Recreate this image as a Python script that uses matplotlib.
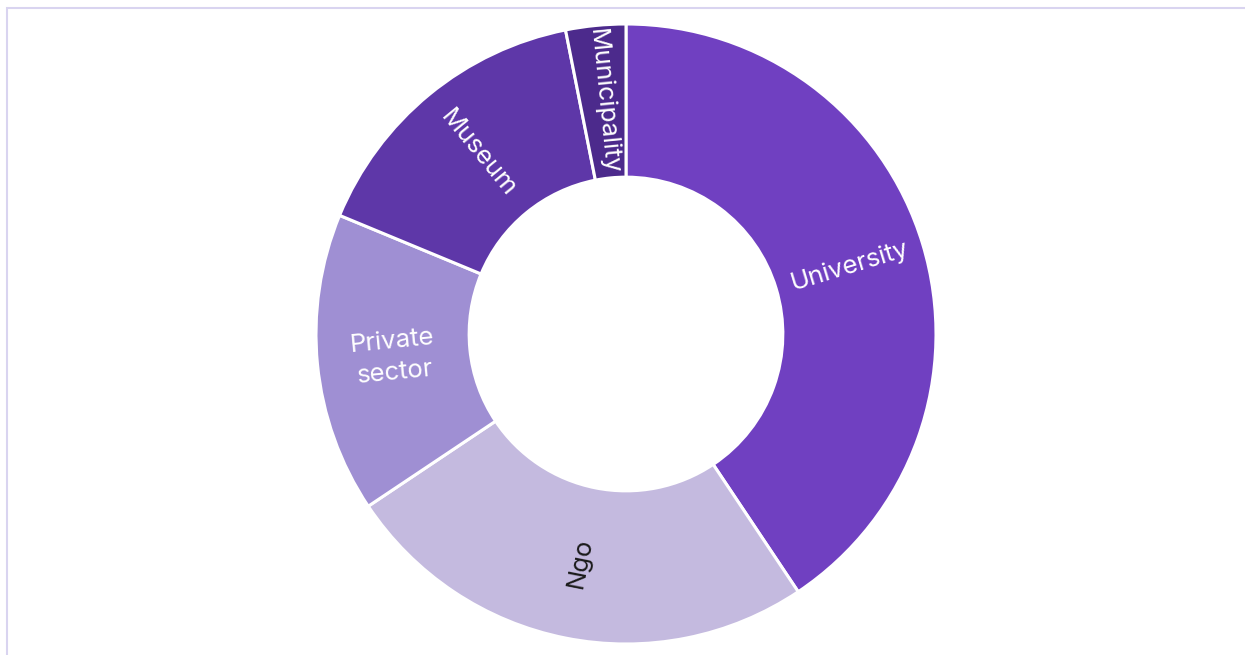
import numpy as np
import matplotlib.pyplot as plt
from matplotlib.patches import Rectangle

labels = ['University', 'Ngo', 'Private\nsector', 'Museum', 'Municipality']
values = [13, 8, 5, 5, 1]
colors = ['#7040c1', '#c4badf', '#9f8fd3', '#5e37a8', '#4c2a8c']
text_colors = ['white', '#1a1a1a', 'white', 'white', 'white']

plt.rcParams['font.family'] = ['Inter', 'DejaVu Sans']

fig = plt.figure(figsize=(12.45, 6.55), dpi=100)

# light frame around the plot area
fig.patches.append(Rectangle((7 / 1245, -0.1), 1.1, (655 - 8) / 655 + 0.1,
                             transform=fig.transFigure, fill=False,
                             edgecolor='#d9d4f0', linewidth=1.5))

ax = fig.add_axes([316 / 1245, 11 / 655, 620 / 1245, 620 / 655])
wedges, _ = ax.pie(values, colors=colors, startangle=90, counterclock=False,
                   radius=1.0,
                   wedgeprops=dict(width=0.494, edgecolor='white', linewidth=2.2))
ax.set_xlim(-1.0, 1.0)
ax.set_ylim(-1.0, 1.0)
ax.set_aspect('equal')
ax.axis('off')

r_mid = 1 - 0.494 / 2
for w, lab, tc in zip(wedges, labels, text_colors):
    ang = (w.theta1 + w.theta2) / 2
    x = r_mid * np.cos(np.deg2rad(ang))
    y = r_mid * np.sin(np.deg2rad(ang))
    rot = ang % 360
    if 90 < rot < 270:
        rot -= 180
    elif rot >= 270:
        rot -= 360
    ax.text(x, y, lab, ha='center', va='center', rotation=rot,
            rotation_mode='anchor', color=tc, fontsize=18.5,
            linespacing=1.45)

fig.savefig('out.png', dpi=100)
